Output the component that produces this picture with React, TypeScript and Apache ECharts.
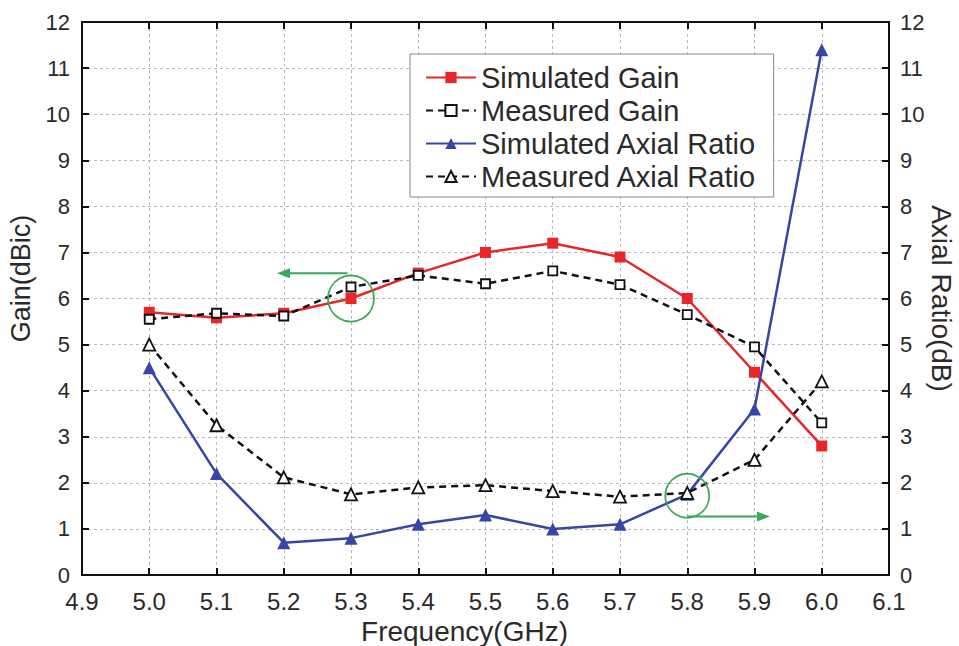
import React, { useEffect, useRef } from "react";
import * as echarts from "echarts";

// Frequency sweep (GHz)
const freq = [5.0, 5.1, 5.2, 5.3, 5.4, 5.5, 5.6, 5.7, 5.8, 5.9, 6.0];

// Gain (dBic)
const simulatedGain = [5.7, 5.58, 5.68, 6.0, 6.55, 7.0, 7.2, 6.9, 6.0, 4.4, 2.8];
const measuredGain = [5.55, 5.68, 5.62, 6.25, 6.5, 6.32, 6.6, 6.3, 5.65, 4.95, 3.3];

// Axial ratio (dB)
const simulatedAR = [4.5, 2.2, 0.7, 0.8, 1.1, 1.3, 1.0, 1.1, 1.75, 3.6, 11.4];
const measuredAR = [5.0, 3.25, 2.12, 1.75, 1.9, 1.95, 1.82, 1.7, 1.78, 2.5, 4.2];

const seriesNames = [
  "Simulated Gain",
  "Measured Gain",
  "Simulated Axial Ratio",
  "Measured Axial Ratio",
];

// Callouts pointing each curve group to its axis (data coordinates)
const gainCircle = { center: [5.3, 6.0], r: 23 };
const gainArrow = { from: [5.295, 6.55], to: [5.19, 6.55] };
const arCircle = { center: [5.8, 1.72], r: 22 };
const arArrow = { from: [5.8, 1.27], to: [5.923, 1.27] };

const FONT = "'Liberation Sans', Arial, Helvetica, sans-serif";
const GREEN = "#3aa85a";
const TEXT = "#2a2a2a";

const pairs = (ys: number[]) => freq.map((f, i) => [f, ys[i]]);

export default function App() {
  const ref = useRef<HTMLDivElement>(null);

  useEffect(() => {
    const chart = echarts.init(ref.current!, null, { renderer: "svg" });

    const yLabel = { color: TEXT, fontSize: 22, fontFamily: FONT, margin: 12 };
    const splitLine = {
      show: true,
      lineStyle: { color: "#b8b8b8", type: [3, 3] as any, width: 1 },
    };
    const axisLine = { show: true, onZero: false, lineStyle: { color: "#111", width: 2 } };
    const axisTick = { show: true, inside: true, length: 7, lineStyle: { color: "#111", width: 2 } };
    const nameStyle = { fontSize: 28, color: TEXT, fontFamily: FONT };

    chart.setOption({
      animation: false,
      backgroundColor: "#fff",
      textStyle: { fontFamily: FONT },
      grid: {
        left: 82,
        right: 70,
        top: 22,
        bottom: 71,
        containLabel: false,
        outerBoundsMode: "none",
      },
      legend: {
        data: seriesNames,
        orient: "vertical",
        left: 410,
        top: 54,
        backgroundColor: "#fff",
        borderColor: "#888",
        borderWidth: 1,
        padding: [9, 17, 6, 15],
        itemWidth: 50,
        itemHeight: 14,
        itemGap: 4,
        textStyle: { fontSize: 29, color: TEXT, fontFamily: FONT, lineHeight: 27 },
      },
      xAxis: [
        {
          type: "value",
          min: 4.9,
          max: 6.1,
          interval: 0.1,
          name: "Frequency(GHz)",
          nameLocation: "middle",
          nameGap: 42,
          nameTextStyle: { ...nameStyle, padding: [0, 42, 0, 0] },
          axisLabel: {
            color: TEXT,
            fontSize: 24,
            fontFamily: FONT,
            margin: 14,
            formatter: (v: number) => v.toFixed(1),
          },
          axisLine,
          axisTick,
          splitLine,
        },
        {
          type: "value",
          position: "top",
          min: 4.9,
          max: 6.1,
          interval: 0.1,
          axisLabel: { show: false },
          axisLine,
          axisTick,
          splitLine: { show: false },
        },
      ],
      yAxis: [
        {
          type: "value",
          min: 0,
          max: 12,
          interval: 1,
          name: "Gain(dBic)",
          nameLocation: "middle",
          nameGap: 46,
          nameRotate: 90,
          nameTextStyle: { ...nameStyle, fontSize: 27, padding: [0, 0, 0, 40] },
          axisLabel: yLabel,
          axisLine,
          axisTick,
          splitLine,
        },
        {
          type: "value",
          position: "right",
          min: 0,
          max: 12,
          interval: 1,
          name: "Axial Ratio(dB)",
          nameLocation: "middle",
          nameGap: 38,
          nameMoveOverlap: false,
          nameRotate: -90,
          nameTextStyle: nameStyle,
          axisLabel: { ...yLabel, margin: 11 },
          axisLine,
          axisTick,
          splitLine: { show: false },
        },
      ],
      series: [
        {
          name: seriesNames[0],
          type: "line",
          yAxisIndex: 0,
          data: pairs(simulatedGain),
          symbol: "rect",
          symbolSize: 11,
          itemStyle: { color: "#e8262a" },
          lineStyle: { color: "#e8262a", width: 2.5 },
          z: 3,
        },
        {
          name: seriesNames[1],
          type: "line",
          yAxisIndex: 0,
          data: pairs(measuredGain),
          symbol: "rect",
          symbolSize: 9,
          itemStyle: { color: "#fff", borderColor: "#111", borderWidth: 1.8 },
          lineStyle: { color: "#111", width: 2.5, type: [7, 5] },
          z: 4,
        },
        {
          name: seriesNames[2],
          type: "line",
          yAxisIndex: 1,
          data: pairs(simulatedAR),
          symbol: "triangle",
          symbolSize: 13,
          itemStyle: { color: "#3746a6" },
          lineStyle: { color: "#3746a6", width: 2.5 },
          z: 3,
        },
        {
          name: seriesNames[3],
          type: "line",
          yAxisIndex: 1,
          data: pairs(measuredAR),
          symbol: "triangle",
          symbolSize: 12,
          itemStyle: { color: "#fff", borderColor: "#111", borderWidth: 1.8 },
          lineStyle: { color: "#111", width: 2.5, type: [7, 5] },
          z: 4,
        },
      ],
    });

    const px = (p: number[]) =>
      chart.convertToPixel({ xAxisIndex: 0, yAxisIndex: 0 }, p) as number[];

    const arrow = (a: { from: number[]; to: number[] }) => {
      const s = px(a.from);
      const e = px(a.to);
      const dir = Math.sign(e[0] - s[0]);
      const headLen = 13;
      const half = 5;
      return [
        {
          type: "line",
          shape: { x1: s[0], y1: s[1], x2: e[0] - dir * headLen, y2: e[1] },
          style: { stroke: GREEN, lineWidth: 2 },
          z: 10,
        },
        {
          type: "polygon",
          shape: {
            points: [
              [e[0], e[1]],
              [e[0] - dir * headLen, e[1] - half],
              [e[0] - dir * headLen, e[1] + half],
            ],
          },
          style: { fill: GREEN },
          z: 10,
        },
      ];
    };

    const circle = (c: { center: number[]; r: number }) => {
      const p = px(c.center);
      return {
        type: "circle",
        shape: { cx: p[0], cy: p[1], r: c.r },
        style: { fill: "none", stroke: GREEN, lineWidth: 1.8 },
        z: 10,
      };
    };

    chart.setOption({
      graphic: [circle(gainCircle), ...arrow(gainArrow), circle(arCircle), ...arrow(arArrow)],
    });

    return () => chart.dispose();
  }, []);

  return (
    <div
      ref={ref}
      style={{ position: "fixed", left: 0, top: 0, width: 959, height: 646, background: "#fff" }}
    />
  );
}
